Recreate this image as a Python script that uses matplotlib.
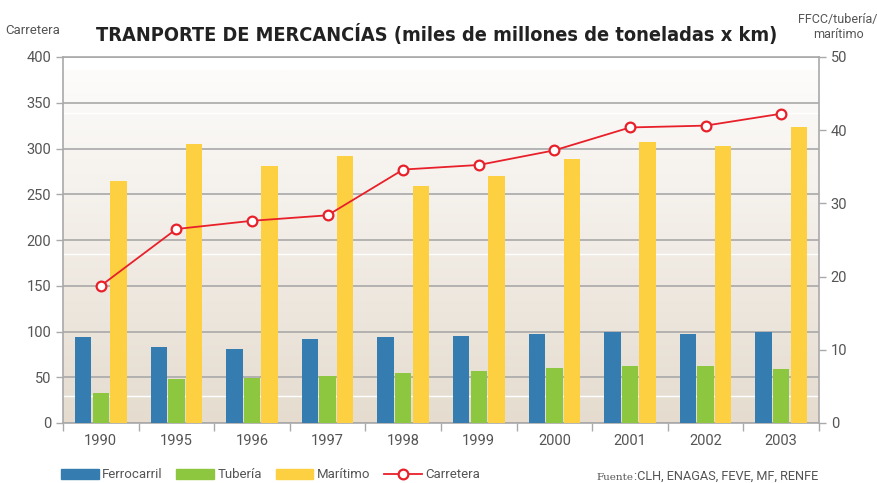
import numpy as np
import matplotlib
matplotlib.use("Agg")
import matplotlib.pyplot as plt
from matplotlib.patches import Patch
from matplotlib.lines import Line2D

# ---- data ----
years = ['1990', '1995', '1996', '1997', '1998', '1999', '2000', '2001', '2002', '2003']
ferrocarril = [11.8, 10.4, 10.1, 11.5, 11.8, 11.9, 12.2, 12.4, 12.2, 12.4]
tuberia = [4.1, 6.0, 6.1, 6.4, 6.8, 7.1, 7.5, 7.8, 7.8, 7.4]
maritimo = [33.1, 38.1, 35.1, 36.5, 32.4, 33.7, 36.1, 38.4, 37.8, 40.4]
carretera = [150, 212, 221, 227, 277, 282, 298, 323, 325, 338]
left_ticks = [0, 50, 100, 150, 200, 250, 300, 350, 400]
right_ticks = [0, 10, 20, 30, 40, 50]

plt.rcParams['font.family'] = ['Roboto', 'DejaVu Sans']

BLUE = '#357db1'
GREEN = '#8dc63f'
YELLOW = '#fdd042'
RED = '#e8202a'
GRID = '#a9a9a9'
TXT = '#555555'

fig = plt.figure(figsize=(8.78, 4.83), dpi=100)
ax = fig.add_axes([63/878, 1-423/483, (819-63)/878, (423-57)/483])
ax2 = ax.twinx()
ax3 = ax.twinx()

x = np.arange(len(years))

# background gradient on bottom axes
grad = np.linspace(0, 1, 256).reshape(-1, 1)
top = np.array([253, 252, 251]) / 255
bot = np.array([229, 220, 207]) / 255
img = (top + (bot - top) * grad).reshape(256, 1, 3)
ax.imshow(img, extent=[0, 1, 0, (423-70)/366], transform=ax.transAxes,
          aspect='auto', zorder=0, interpolation='bilinear')
ax.set_facecolor('white')
for yf in [(423-113)/366, (423-254)/366, (423-396)/366]:
    ax.axhline(yf * 400, color='white', lw=1.0, zorder=1)

ax.set_ylim(0, 400)
ax.set_xlim(-0.5, len(years) - 0.5)
ax.set_yticks(left_ticks)
ax.yaxis.grid(True, color=GRID, lw=1.2, zorder=2)
ax.set_axisbelow(True)
ax.tick_params(axis='y', colors=GRID, labelcolor=TXT, labelsize=10.5, length=5, width=1)
ax.set_xticks(x)
ax.set_xticklabels(years)
ax.tick_params(axis='x', length=0, labelcolor=TXT, labelsize=10.5, pad=8)
ax.set_xticks(np.arange(-0.5, len(years) + 0.5, 1), minor=True)
ax.tick_params(axis='x', which='minor', length=6, width=1, colors=GRID)
for s in ax.spines.values():
    s.set_color(GRID)
    s.set_linewidth(1.2)

# bars on right axis
w = 0.215
ax2.bar(x - 0.233, ferrocarril, w, color=BLUE, zorder=3)
ax2.bar(x, tuberia, w, color=GREEN, zorder=3)
ax2.bar(x + 0.233, maritimo, w, color=YELLOW, zorder=3)
ax2.set_ylim(0, 50)
ax2.set_yticks(right_ticks)
ax2.tick_params(axis='y', colors=GRID, labelcolor=TXT, labelsize=10.5, length=5, width=1)
for s in ax2.spines.values():
    s.set_visible(False)

# line on top axes with left scale
ax3.set_ylim(0, 400)
ax3.plot(x, carretera, color=RED, lw=1.3, marker='o', ms=7, mfc='white',
         mec=RED, mew=1.6, zorder=5, clip_on=False)
ax3.set_yticks([])
for s in ax3.spines.values():
    s.set_visible(False)

# titles
fig.text(437/878, 1-35/483, 'TRANPORTE DE MERCANCÍAS (miles de millones de toneladas x km)',
         ha='center', va='center', fontsize=14.3, fontweight='bold', color='#222222',
         family=['DejaVu Sans'], fontstretch='condensed')
fig.text(33/878, 1-30/483, 'Carretera', ha='center', va='center', fontsize=9.5, color=TXT)
fig.text(838/878, 1-27/483, 'FFCC/tubería/\nmarítimo', ha='center', va='center',
         fontsize=9, color=TXT, linespacing=1.3)

# legend
handles = [Patch(color=BLUE), Patch(color=GREEN), Patch(color=YELLOW),
           Line2D([], [], color=RED, lw=1.3, marker='o', ms=7, mfc='white', mec=RED, mew=1.6)]
labels = ['Ferrocarril', 'Tubería', 'Marítimo', 'Carretera']
fig.legend(handles, labels, loc='center left', bbox_to_anchor=(61/878, 1-475/483),
           ncol=4, frameon=False, fontsize=9.5, handlelength=2.85, handleheight=0.8,
           handletextpad=0.25, columnspacing=1.05, borderpad=0, borderaxespad=0,
           labelcolor=TXT)

fig.text(596/878, 1-477/483, 'Fuente', ha='left', va='center', fontsize=7.5,
         family='DejaVu Serif', color=TXT)
fig.text(634/878, 1-476/483, ':CLH, ENAGAS, FEVE, MF, RENFE', ha='left', va='center',
         fontsize=9.2, color=TXT)

fig.savefig('out.png', dpi=100)
